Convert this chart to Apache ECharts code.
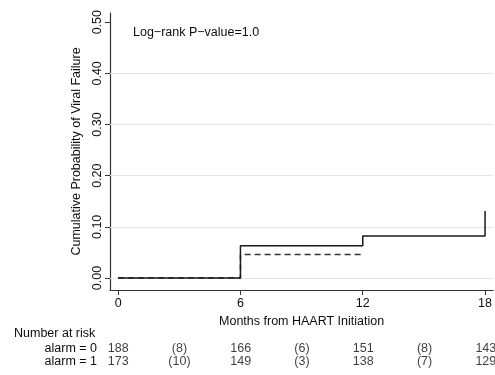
<!DOCTYPE html>
<html><head><meta charset="utf-8">
<script src="https://cdn.jsdelivr.net/npm/echarts@6/dist/echarts.min.js"></script>
<style>html,body{margin:0;padding:0;background:#fff}#c{width:495px;height:375px}</style>
</head><body><div id="c"></div>
<script>
const xTicks = [0, 6, 12, 18];
const yTicks = [0, 0.1, 0.2, 0.3, 0.4, 0.5];
const gridYs = [0, 0.1, 0.2, 0.3, 0.4];
const solidSteps = [[0, 0], [6, 0.063], [12, 0.082], [18, 0.131]];
const dashedSteps = [[0, 0], [6, 0.046], [12, 0.046]];
const riskRows = ['alarm = 0', 'alarm = 1'];
const riskTimes = [0, 3, 6, 9, 12, 15, 18];
const risk0 = ['188', '(8)', '166', '(6)', '151', '(8)', '143'];
const risk1 = ['173', '(10)', '149', '(3)', '138', '(7)', '129'];
const pText = 'Log\u2212rank P\u2212value=1.0';

const FONT = 'Liberation Sans';
const FS = 12.5;
const TC = '#0d0d0d';
const chart = echarts.init(document.getElementById('c'), null, {renderer: 'canvas'});
function riskData(row, vals) { return riskTimes.map((t, i) => [t, row, vals[i]]); }
chart.setOption({
  animation: false,
  textStyle: {fontFamily: FONT},
  title: [
    {text: pText, left: 133, top: 26, padding: 0, textStyle: {fontSize: FS, fontWeight: 'normal', color: TC, fontFamily: FONT}},
    {text: 'Number at risk', left: 14, top: 327, padding: 0, textStyle: {fontSize: FS, fontWeight: 'normal', color: TC, fontFamily: FONT}}
  ],
  grid: [
    {left: 110, top: 13, width: 384, height: 277},
    {left: 110, top: 342, width: 384, height: 26}
  ],
  xAxis: [
    {gridIndex: 0, type: 'value', min: -0.4, max: 18.4,
     axisLine: {onZero: false, lineStyle: {color: '#333', width: 1.2}},
     axisTick: {customValues: xTicks, length: 5, lineStyle: {color: '#333'}},
     axisLabel: {customValues: xTicks, fontSize: FS, color: TC, margin: 7, fontFamily: FONT},
     splitLine: {show: false},
     name: 'Months from HAART Initiation', nameLocation: 'middle', nameGap: 20,
     nameTextStyle: {fontSize: FS, color: TC, fontFamily: FONT}},
    {gridIndex: 1, type: 'value', min: -0.4, max: 18.4, show: false}
  ],
  yAxis: [
    {gridIndex: 0, type: 'value', min: -0.0234, max: 0.518,
     axisLine: {show: true, onZero: false, lineStyle: {color: '#333', width: 1.2}},
     axisTick: {show: true, customValues: yTicks, length: 5, lineStyle: {color: '#333'}},
     axisLabel: {customValues: yTicks, rotate: 90, fontSize: FS, color: TC, margin: 6, fontFamily: FONT,
       formatter: v => v.toFixed(2)},
     splitLine: {show: false},
     name: 'Cumulative Probability of Viral Failure', nameLocation: 'middle', nameGap: 21,
     nameTextStyle: {fontSize: FS, color: TC, fontFamily: FONT}},
    {gridIndex: 1, type: 'category', data: riskRows, inverse: true,
     axisLine: {show: false}, axisTick: {show: false}, splitLine: {show: false},
     axisLabel: {interval: 0, fontSize: FS, color: TC, margin: 13, fontFamily: FONT, hideOverlap: false}}
  ],
  series: [
    {type: 'line', xAxisIndex: 0, yAxisIndex: 0, step: 'end', data: solidSteps, symbol: 'none',
     lineStyle: {color: '#1a1a1a', width: 1.5}, z: 3,
     markLine: {silent: true, symbol: 'none', label: {show: false},
       lineStyle: {color: '#e6e6e6', width: 1, type: 'solid'},
       data: gridYs.map(v => ({yAxis: v})), z: 1}},
    {type: 'line', xAxisIndex: 0, yAxisIndex: 0, step: 'end', data: dashedSteps, symbol: 'none',
     lineStyle: {color: '#333', width: 1.5, type: [6, 4]}, z: 2},
    {type: 'scatter', xAxisIndex: 1, yAxisIndex: 1, symbolSize: 0, data: riskData(riskRows[0], risk0),
     label: {show: true, position: 'inside', formatter: p => p.value[2], fontSize: FS, color: TC, fontFamily: FONT}},
    {type: 'scatter', xAxisIndex: 1, yAxisIndex: 1, symbolSize: 0, data: riskData(riskRows[1], risk1),
     label: {show: true, position: 'inside', formatter: p => p.value[2], fontSize: FS, color: TC, fontFamily: FONT}}
  ]
});
</script></body></html>
